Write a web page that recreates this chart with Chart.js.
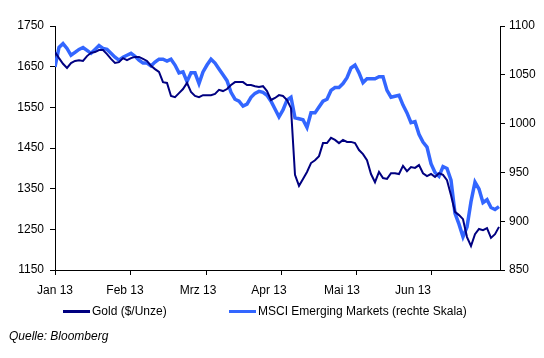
<!DOCTYPE html>
<html>
<head>
<meta charset="utf-8">
<script src="https://cdn.jsdelivr.net/npm/chart.js@4/dist/chart.umd.min.js"></script>
<style>
	body { margin: 0; background: #fff; }
	#wrap { position: relative; width: 544px; height: 358px; font-family: 'Liberation Sans', Arial, sans-serif; font-size: 12px; color: #000; }
	#chart { position: absolute; left: 0; top: 0; }
	.legend { position: absolute; top: 304px; line-height: 14px; white-space: nowrap; }
	.legend span { display: inline-block; width: 27px; height: 3px; vertical-align: middle; margin-right: 2px; }
	.source { position: absolute; left: 9px; top: 329px; line-height: 14px; font-style: italic; }
</style>
</head>
<body>
<div id="wrap">
	<canvas id="chart" width="544" height="358"></canvas>
	<div class="legend" style="left: 63px;"><span style="background: #000080;"></span>Gold ($/Unze)</div>
	<div class="legend" style="left: 229px;"><span style="background: #3366ff;"></span>MSCI Emerging Markets (rechte Skala)</div>
	<div class="source">Quelle: Bloomberg</div>
</div>
<script>
// values, one point per step along the x axis (Jan 2013 - Jun 2013)
const gold = [
	1686, 1671, 1657, 1647, 1659, 1664, 1666, 1664, 1676, 1684,
	1686, 1691, 1691, 1681, 1669, 1659, 1661, 1671, 1666, 1671,
	1674, 1674, 1669, 1664, 1652, 1644, 1637, 1612, 1610, 1578,
	1575, 1585, 1595, 1610, 1588, 1578, 1575, 1580, 1580, 1580,
	1583, 1593, 1590, 1595, 1605, 1612, 1612, 1612, 1605, 1605,
	1602, 1600, 1602, 1590, 1568, 1573, 1580, 1578, 1568, 1548,
	1384, 1357, 1374, 1391, 1413, 1420, 1430, 1462, 1462, 1475,
	1470, 1462, 1470, 1465, 1465, 1462, 1445, 1435, 1420, 1386,
	1366, 1391, 1376, 1374, 1388, 1388, 1386, 1406, 1393, 1403,
	1401, 1408, 1388, 1381, 1386, 1379, 1388, 1384, 1371, 1334,
	1293, 1285, 1275, 1231, 1209, 1238, 1251, 1248, 1253, 1229,
	1238, 1256,
];
const msci = [
	1058, 1078, 1082, 1077, 1070, 1073, 1076, 1078, 1075, 1072,
	1076, 1080, 1077, 1076, 1072, 1068, 1065, 1068, 1070, 1072,
	1069, 1065, 1062, 1062, 1059, 1063, 1066, 1066, 1064, 1066,
	1060, 1052, 1053, 1043, 1052, 1052, 1041, 1053, 1060, 1066,
	1062, 1056, 1050, 1044, 1032, 1025, 1023, 1018, 1020, 1027,
	1031, 1033, 1032, 1029, 1023, 1015, 1007, 1014, 1024, 1027,
	1006, 1005, 1004, 996, 1011, 1011, 1017, 1023, 1025, 1034,
	1037, 1037, 1041, 1047, 1057, 1060, 1052, 1042, 1046, 1046,
	1046, 1048, 1048, 1034, 1027, 1028, 1029, 1019, 1011, 1001,
	1002, 989, 981, 976, 959, 950, 946, 956, 954, 942,
	908, 897, 884, 894, 920, 940, 933, 919, 922, 914,
	912, 915,
];
const monthLabels = [ 'Jan 13', 'Feb 13', 'Mrz 13', 'Apr 13', 'Mai 13', 'Jun 13' ];
// month boundaries and label anchors, in steps along the x axis
const monthTicks = [ 0, 18.75, 37.75, 56.5, 75.25, 94 ];
const labelTicks = [ 0, 17.5, 35.75, 53.5, 71.75, 89.5 ];
const xMax = 111.25;

Chart.defaults.font.family = "'Liberation Sans', Arial, sans-serif";
Chart.defaults.font.size = 12;
Chart.defaults.color = '#000';

const toPoints = ( values ) => values.map( ( v, i ) => ( { x: i, y: v } ) );
const plain = ( val ) => String( val );

new Chart( document.getElementById( 'chart' ), {
	type: 'line',
	data: {
		datasets: [
			{
				label: 'Gold ($/Unze)',
				data: toPoints( gold ),
				borderColor: '#000080',
				backgroundColor: '#000080',
				borderWidth: 2,
				yAxisID: 'y',
			},
			{
				label: 'MSCI Emerging Markets (rechte Skala)',
				data: toPoints( msci ),
				borderColor: '#3366ff',
				backgroundColor: '#3366ff',
				borderWidth: 3.5,
				yAxisID: 'y1',
			},
		],
	},
	options: {
		responsive: false,
		animation: false,
		events: [],
		elements: {
			point: { radius: 0 },
			line: { tension: 0 },
		},
		layout: {
			padding: { top: 26, bottom: 58, left: 0, right: 0 },
		},
		plugins: {
			legend: { display: false },
			tooltip: { enabled: false },
		},
		scales: {
			x: {
				type: 'linear',
				min: 0,
				max: xMax,
				grid: { drawOnChartArea: false, color: '#000', tickLength: 5 },
				border: { color: '#000' },
				ticks: { display: false },
				afterBuildTicks( scale ) {
					scale.ticks = monthTicks.map( ( v ) => ( { value: v } ) );
				},
				afterFit( scale ) {
					scale.height = 8;
				},
			},
			x2: {
				type: 'linear',
				position: 'bottom',
				min: 0,
				max: xMax,
				grid: { display: false, drawTicks: false },
				border: { display: false },
				ticks: {
					autoSkip: false,
					maxRotation: 0,
					padding: 5,
					callback( val, index ) {
						return monthLabels[ index ];
					},
				},
				afterBuildTicks( scale ) {
					scale.ticks = labelTicks.map( ( v ) => ( { value: v } ) );
				},
				afterFit( scale ) {
					scale.height = 22;
				},
			},
			y: {
				position: 'left',
				min: 1150,
				max: 1750,
				grid: { drawOnChartArea: false, color: '#000', tickLength: 5 },
				border: { color: '#000' },
				ticks: { stepSize: 100, padding: 6, callback: plain },
				afterFit( scale ) {
					scale.width = 55;
				},
			},
			y1: {
				position: 'right',
				min: 850,
				max: 1100,
				grid: { drawOnChartArea: false, color: '#000', tickLength: 5 },
				border: { color: '#000' },
				ticks: { stepSize: 50, padding: 4, callback: plain },
				afterFit( scale ) {
					scale.width = 44;
				},
			},
		},
	},
} );
</script>
</body>
</html>
